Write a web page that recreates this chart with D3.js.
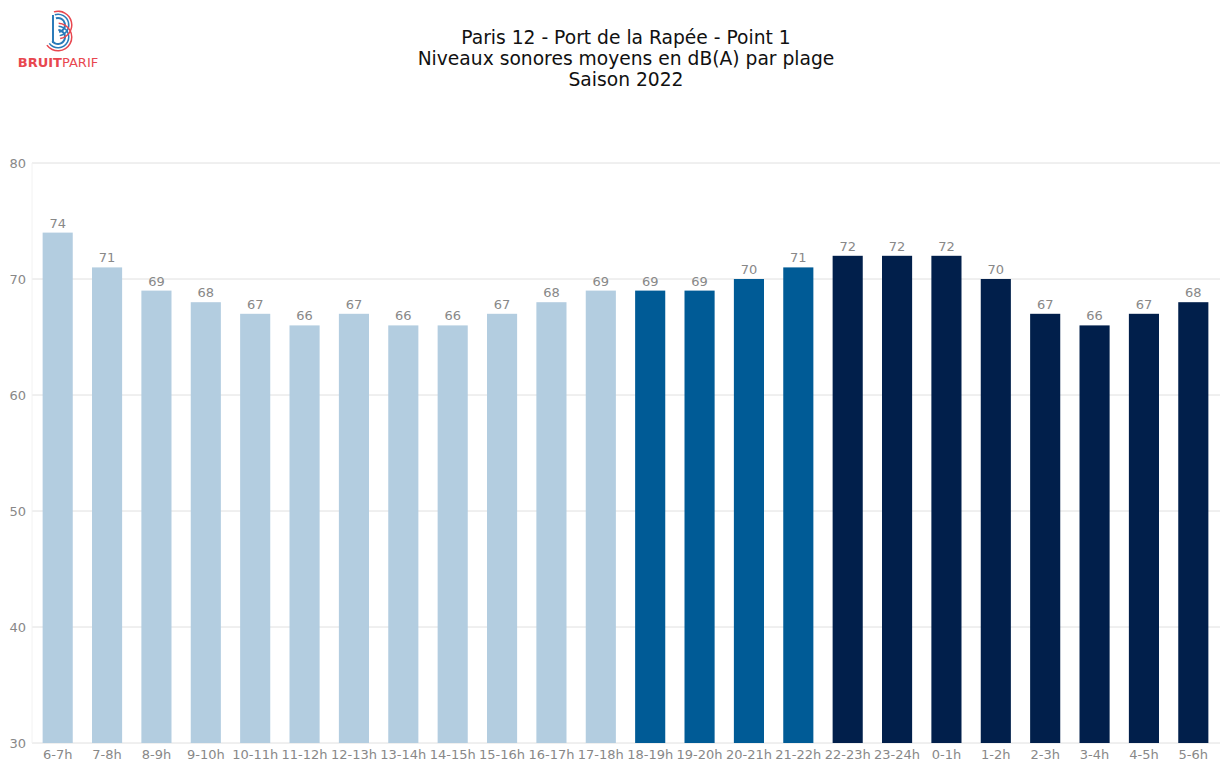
<!DOCTYPE html>
<html><head><meta charset="utf-8">
<script src="https://cdn.jsdelivr.net/npm/d3@7"></script>
<style>body{margin:0;background:#fff;font-family:"DejaVu Sans",sans-serif}</style>
</head><body><svg id="c" width="1225" height="765"></svg>
<script>
const categories = ["6-7h","7-8h","8-9h","9-10h","10-11h","11-12h","12-13h","13-14h","14-15h","15-16h","16-17h","17-18h","18-19h","19-20h","20-21h","21-22h","22-23h","23-24h","0-1h","1-2h","2-3h","3-4h","4-5h","5-6h"];
const values = [74,71,69,68,67,66,67,66,66,67,68,69,69,69,70,71,72,72,72,70,67,66,67,68];
const periods = ["jour","jour","jour","jour","jour","jour","jour","jour","jour","jour","jour","jour","soir","soir","soir","soir","nuit","nuit","nuit","nuit","nuit","nuit","nuit","nuit"];
const periodColors = {jour:"#b3cde0", soir:"#005b96", nuit:"#011f4b"};
const yTicks = [30,40,50,60,70,80];
const titleLines = ["Paris 12 - Port de la Rapée - Point 1","Niveaux sonores moyens en dB(A) par plage","Saison 2022"];

const svg = d3.select("#c");
const x = d3.scaleBand().domain(categories).range([33,1218]).paddingInner(0.39).paddingOuter(0.195);
const y = d3.scaleLinear().domain([30,80]).range([743,163]);

// grid
const g = svg.append("g");
g.selectAll("line.grid").data(yTicks).join("line")
  .attr("x1",32).attr("x2",1220).attr("y1",d=>y(d)).attr("y2",d=>y(d))
  .attr("stroke","#e0e0e0").attr("stroke-width",1);
g.append("line").attr("x1",32).attr("x2",32).attr("y1",y(80)).attr("y2",y(30)).attr("stroke","#f2f2f2");
g.selectAll("text.yt").data(yTicks).join("text")
  .attr("x",26).attr("y",d=>y(d)).attr("dy","0.35em").attr("text-anchor","end")
  .attr("fill","#888").attr("font-size",13).text(d=>d);

// bars
g.selectAll("rect.bar").data(values).join("rect")
  .attr("x",(d,i)=>x(categories[i])).attr("width",x.bandwidth())
  .attr("y",d=>y(d)).attr("height",d=>y(30)-y(d))
  .attr("fill",(d,i)=>periodColors[periods[i]]);
g.selectAll("text.val").data(values).join("text")
  .attr("x",(d,i)=>x(categories[i])+x.bandwidth()/2).attr("y",d=>y(d)-5)
  .attr("text-anchor","middle").attr("fill","#888").attr("font-size",13).text(d=>d);
g.selectAll("text.xt").data(categories).join("text")
  .attr("x",d=>x(d)+x.bandwidth()/2).attr("y",759)
  .attr("text-anchor","middle").attr("fill","#888").attr("font-size",13).text(d=>d);

// title
svg.selectAll("text.title").data(titleLines).join("text")
  .attr("x",626).attr("y",(d,i)=>44+i*21).attr("text-anchor","middle")
  .attr("fill","#111").attr("font-size",18.7).text(d=>d);

// logo
const lg = svg.append("g");
const cx=58, cy=31;
const arc = d3.arc();
[[6,8,"#2b7bb9"],[10,11.5,"#2b7bb9"],[13,14.5,"#e8474f"]].forEach(([r0,r1,c],k)=>{
  lg.append("path").attr("transform",`translate(${cx},${cy-6})`)
    .attr("d",arc({innerRadius:r0,outerRadius:r1,startAngle:-0.3,endAngle:Math.PI*0.95})).attr("fill",c);
  lg.append("path").attr("transform",`translate(${cx},${cy+6})`)
    .attr("d",arc({innerRadius:r0,outerRadius:r1,startAngle:0.05,endAngle:Math.PI*1.3})).attr("fill",c);
});
lg.append("line").attr("x1",cx-5).attr("x2",cx-5).attr("y1",cy-16).attr("y2",cy+12).attr("stroke","#2b7bb9").attr("stroke-width",2);
const lt = lg.append("text").attr("x",58).attr("y",67).attr("text-anchor","middle").attr("font-size",13).attr("fill","#e8474f");
lt.append("tspan").attr("font-weight","bold").text("BRUIT");
lt.append("tspan").text("PARIF");
</script></body></html>
